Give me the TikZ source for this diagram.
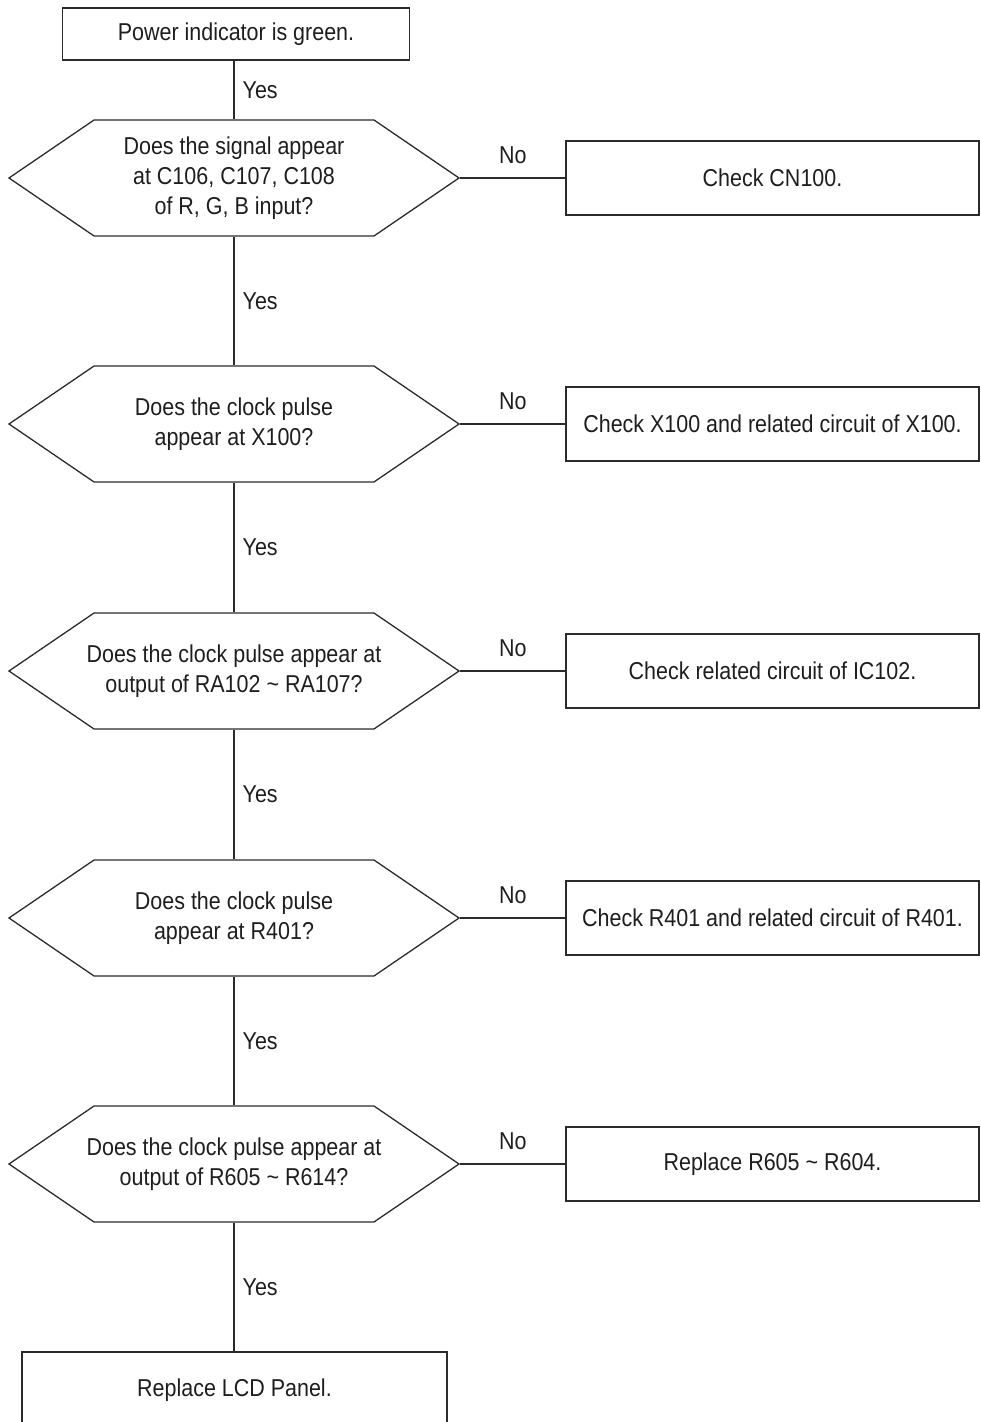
\documentclass[tikz,border=0pt]{standalone}
\usepackage{fontspec}
\setmainfont[FakeStretch=0.88]{Liberation Sans}
\usetikzlibrary{shapes.symbols}
\definecolor{ink}{HTML}{2B2B2B}
\definecolor{txt}{HTML}{1E1E1E}

\tikzset{
  box/.style={draw=ink, line width=0.65pt, text=txt, align=center, inner sep=0pt},
  ask/.style={box, shape=signal, signal to=west and east, signal pointer angle=68.6,
    inner xsep=-15pt, minimum width=225pt, minimum height=58pt},
  chkbox/.style={box, minimum width=206.5pt, minimum height=37pt},
  wire/.style={draw=ink, line width=0.65pt},
  yes/.style={anchor=west, inner sep=0pt, xshift=4pt, text=txt},
  no/.style={above=7pt, inner sep=0pt, text=txt}
}

\begin{document}
\begin{tikzpicture}[x=0.5pt, y=-0.5pt, every node/.append style={font=\fontsize{12.2pt}{15pt}\selectfont}]
\clip (0,0) rectangle (980,1422);

\node[box, minimum width=173.5pt, minimum height=26pt] (start) at (236,34) {Power indicator is green.};

% questions
\node[ask] (q1) at (234,178) {Does the signal appear\\at C106, C107, C108\\of R, G, B input?};
\node[ask] (q2) at (234,424) {Does the clock pulse\\appear at X100?};
\node[ask] (q3) at (234,671) {Does the clock pulse appear at\\output of RA102 \textasciitilde{} RA107?};
\node[ask] (q4) at (234,918) {Does the clock pulse\\appear at R401?};
\node[ask] (q5) at (234,1164) {Does the clock pulse appear at\\output of R605 \textasciitilde{} R614?};

% checks
\node[chkbox] (chk1) at (772.5,178) {Check CN100.};
\node[chkbox] (chk2) at (772.5,424) {Check X100 and related circuit of X100.};
\node[chkbox] (chk3) at (772.5,671) {Check related circuit of IC102.};
\node[chkbox] (chk4) at (772.5,918) {Check R401 and related circuit of R401.};
\node[chkbox] (chk5) at (772.5,1164) {Replace R605 \textasciitilde{} R604.};

\node[box, minimum width=212.5pt, minimum height=38pt] (lcd) at (234.5,1390) {Replace LCD Panel.};

% yes branch
\draw[wire] (q1.north |- start.south) -- node[yes] {Yes} (q1.north);
\draw[wire] (q1.south) -- node[yes] {Yes} (q2.north);
\draw[wire] (q2.south) -- node[yes] {Yes} (q3.north);
\draw[wire] (q3.south) -- node[yes] {Yes} (q4.north);
\draw[wire] (q4.south) -- node[yes] {Yes} (q5.north);
\draw[wire] (q5.south) -- node[yes] {Yes} (q5.south |- lcd.north);

% no branch
\draw[wire] (q1.east) -- node[no] {No} (chk1.west);
\draw[wire] (q2.east) -- node[no] {No} (chk2.west);
\draw[wire] (q3.east) -- node[no] {No} (chk3.west);
\draw[wire] (q4.east) -- node[no] {No} (chk4.west);
\draw[wire] (q5.east) -- node[no] {No} (chk5.west);

\end{tikzpicture}
\end{document}
